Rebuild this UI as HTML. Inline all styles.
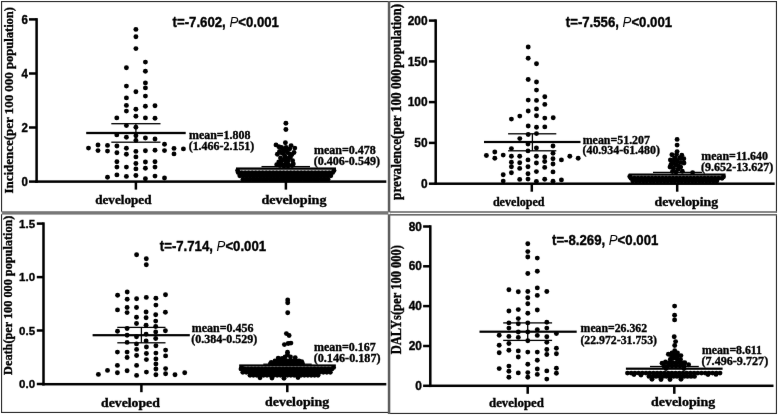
<!DOCTYPE html>
<html><head><meta charset="utf-8"><style>
html,body{margin:0;padding:0;background:#fff;}
svg{display:block;}
text{fill:#000;}
</style></head><body>
<svg width="778" height="415" viewBox="0 0 778 415">
<defs><filter id="sf" x="0" y="0" width="778" height="415" filterUnits="userSpaceOnUse" color-interpolation-filters="sRGB"><feConvolveMatrix order="3" kernelMatrix="0.00163 0.03713 0.00163 0.03713 0.84497 0.03713 0.00163 0.03713 0.00163" edgeMode="duplicate" preserveAlpha="true"/></filter></defs>
<g filter="url(#sf)">
<rect x="0" y="0" width="778" height="415" fill="#fff"/>
<rect x="1" y="1" width="387.5" height="1.1" fill="#262626"/><rect x="389.5" y="1" width="387.5" height="1.1" fill="#262626"/><rect x="1" y="1" width="1.1" height="211" fill="#262626"/><rect x="1" y="214" width="1.1" height="199" fill="#262626"/><rect x="775.9" y="1" width="1.1" height="211.5" fill="#262626"/><rect x="775.9" y="214" width="1.1" height="200" fill="#262626"/><rect x="1" y="411.9" width="388" height="1.1" fill="#262626"/><rect x="389" y="412.9" width="388" height="1.1" fill="#262626"/><rect x="387.8" y="1" width="2.5" height="413" fill="#5c5c5c"/><rect x="1" y="211.2" width="388.2" height="3.4" fill="#777"/><rect x="389.5" y="211.2" width="387.5" height="1.6" fill="#6a6a6a"/><rect x="389.5" y="214" width="387.5" height="1.6" fill="#666"/><rect x="388.3" y="212.4" width="1.8" height="1.8" fill="#fff"/><rect x="1" y="212.3" width="1.1" height="1.5" fill="#fff"/>
<g fill="#000">
<rect x="35.35" y="18.15" width="2.50" height="164.70"/>
<rect x="29.00" y="180.35" width="7.60" height="2.50"/>
<text transform="translate(28.00,185.70) scale(1,1.1)" style="font-family:'Liberation Sans',sans-serif;font-weight:bold;stroke:#000;stroke-width:0.35px;font-size:11.5px" text-anchor="end" >0</text>
<rect x="29.00" y="126.25" width="7.60" height="2.50"/>
<text transform="translate(28.00,131.60) scale(1,1.1)" style="font-family:'Liberation Sans',sans-serif;font-weight:bold;stroke:#000;stroke-width:0.35px;font-size:11.5px" text-anchor="end" >2</text>
<rect x="29.00" y="72.25" width="7.60" height="2.50"/>
<text transform="translate(28.00,77.60) scale(1,1.1)" style="font-family:'Liberation Sans',sans-serif;font-weight:bold;stroke:#000;stroke-width:0.35px;font-size:11.5px" text-anchor="end" >4</text>
<rect x="29.00" y="18.15" width="7.60" height="2.50"/>
<text transform="translate(28.00,23.50) scale(1,1.1)" style="font-family:'Liberation Sans',sans-serif;font-weight:bold;stroke:#000;stroke-width:0.35px;font-size:11.5px" text-anchor="end" >6</text>
<rect x="35.35" y="180.35" width="350.95" height="2.50"/>
<rect x="134.65" y="181.60" width="2.50" height="8.00"/>
<rect x="284.65" y="181.60" width="2.50" height="8.00"/>
<text x="95.20" y="204.40" textLength="56.30" lengthAdjust="spacingAndGlyphs" style="font-family:'Liberation Serif',serif;font-weight:bold;stroke:#000;stroke-width:0.35px;font-size:13.0px">developed</text>
<text x="261.40" y="204.40" textLength="65.10" lengthAdjust="spacingAndGlyphs" style="font-family:'Liberation Serif',serif;font-weight:bold;stroke:#000;stroke-width:0.35px;font-size:13.0px">developing</text>
<text transform="translate(13.30,193.60) rotate(-90) scale(1,1.03)" textLength="121.40" lengthAdjust="spacingAndGlyphs" style="font-family:'Liberation Serif',serif;font-weight:bold;stroke:#000;stroke-width:0.35px;font-size:12.8px">Incidence(per 100 000</text>
<text transform="translate(13.30,68.90) rotate(-90) scale(1,1.03)" textLength="61.90" lengthAdjust="spacingAndGlyphs" style="font-family:'Liberation Serif',serif;font-weight:bold;stroke:#000;stroke-width:0.35px;font-size:12.8px">population)</text>
<text transform="translate(172.60,26.60) scale(1,1.07)" style="font-family:'Liberation Sans',sans-serif;font-weight:bold;stroke:#000;stroke-width:0.35px;font-size:13.2px">t=-7.602, <tspan style="font-weight:normal;font-style:italic;stroke-width:0">P</tspan>&lt;0.001</text>
<g><circle cx="135.9" cy="29.4" r="2.45"/><circle cx="135.9" cy="36.8" r="2.45"/><circle cx="135.9" cy="48.6" r="2.45"/><circle cx="145.4" cy="62.1" r="2.45"/><circle cx="126.4" cy="67.7" r="2.45"/><circle cx="145.4" cy="71.3" r="2.45"/><circle cx="126.4" cy="86.1" r="2.45"/><circle cx="145.4" cy="82.9" r="2.45"/><circle cx="145.4" cy="87.9" r="2.45"/><circle cx="135.9" cy="91.8" r="2.45"/><circle cx="126.4" cy="97.9" r="2.45"/><circle cx="145.4" cy="96.1" r="2.45"/><circle cx="126.4" cy="105.4" r="2.45"/><circle cx="145.4" cy="106.3" r="2.45"/><circle cx="155.0" cy="105.7" r="2.45"/><circle cx="126.4" cy="111.1" r="2.45"/><circle cx="135.9" cy="109.2" r="2.45"/><circle cx="116.8" cy="117.9" r="2.45"/><circle cx="135.9" cy="116.2" r="2.45"/><circle cx="145.4" cy="117.9" r="2.45"/><circle cx="155.0" cy="118.2" r="2.45"/><circle cx="126.4" cy="125.6" r="2.45"/><circle cx="135.9" cy="127.2" r="2.45"/><circle cx="116.8" cy="134.9" r="2.45"/><circle cx="126.4" cy="137.2" r="2.45"/><circle cx="135.9" cy="135.7" r="2.45"/><circle cx="145.4" cy="138.0" r="2.45"/><circle cx="155.0" cy="139.0" r="2.45"/><circle cx="135.9" cy="140.4" r="2.45"/><circle cx="88.5" cy="148.1" r="2.45"/><circle cx="98.0" cy="145.0" r="2.45"/><circle cx="98.0" cy="150.6" r="2.45"/><circle cx="107.5" cy="145.4" r="2.45"/><circle cx="107.5" cy="151.1" r="2.45"/><circle cx="116.9" cy="146.0" r="2.45"/><circle cx="116.9" cy="152.7" r="2.45"/><circle cx="126.4" cy="148.2" r="2.45"/><circle cx="126.4" cy="154.2" r="2.45"/><circle cx="135.9" cy="151.4" r="2.45"/><circle cx="135.9" cy="156.9" r="2.45"/><circle cx="145.4" cy="150.8" r="2.45"/><circle cx="155.0" cy="150.2" r="2.45"/><circle cx="164.5" cy="144.2" r="2.45"/><circle cx="164.5" cy="150.6" r="2.45"/><circle cx="174.0" cy="148.4" r="2.45"/><circle cx="174.0" cy="153.9" r="2.45"/><circle cx="183.4" cy="148.9" r="2.45"/><circle cx="116.9" cy="161.7" r="2.45"/><circle cx="116.9" cy="167.1" r="2.45"/><circle cx="126.4" cy="167.1" r="2.45"/><circle cx="135.9" cy="163.5" r="2.45"/><circle cx="135.9" cy="168.9" r="2.45"/><circle cx="145.4" cy="162.0" r="2.45"/><circle cx="145.4" cy="168.3" r="2.45"/><circle cx="155.0" cy="161.7" r="2.45"/><circle cx="155.0" cy="167.1" r="2.45"/><circle cx="107.5" cy="177.3" r="2.45"/><circle cx="116.9" cy="174.9" r="2.45"/><circle cx="126.4" cy="176.4" r="2.45"/><circle cx="135.9" cy="175.5" r="2.45"/><circle cx="145.4" cy="178.8" r="2.45"/><circle cx="155.0" cy="176.1" r="2.45"/><circle cx="164.5" cy="178.0" r="2.45"/><circle cx="285.9" cy="123.3" r="2.45"/><circle cx="285.9" cy="129.5" r="2.45"/><circle cx="285.4" cy="142.7" r="2.45"/><circle cx="276.0" cy="144.9" r="2.45"/><circle cx="278.8" cy="146.7" r="2.45"/><circle cx="282.5" cy="148.8" r="2.45"/><circle cx="286.1" cy="147.4" r="2.45"/><circle cx="286.1" cy="150.3" r="2.45"/><circle cx="289.7" cy="148.8" r="2.45"/><circle cx="283.2" cy="152.5" r="2.45"/><circle cx="287.5" cy="152.5" r="2.45"/><circle cx="289.7" cy="153.9" r="2.45"/><circle cx="284.6" cy="155.4" r="2.45"/><circle cx="291.1" cy="145.6" r="2.45"/><circle cx="294.8" cy="148.1" r="2.45"/><circle cx="294.0" cy="152.5" r="2.45"/><circle cx="291.9" cy="154.6" r="2.45"/><circle cx="277.4" cy="154.3" r="2.45"/><circle cx="285.4" cy="157.5" r="2.45"/><circle cx="283.9" cy="159.7" r="2.45"/><circle cx="278.8" cy="161.9" r="2.45"/><circle cx="286.8" cy="161.1" r="2.45"/><circle cx="292.6" cy="160.8" r="2.45"/><circle cx="276.7" cy="164.8" r="2.45"/><circle cx="282.5" cy="164.8" r="2.45"/><circle cx="288.2" cy="164.8" r="2.45"/><circle cx="293.3" cy="164.0" r="2.45"/><circle cx="280.5" cy="158.0" r="2.45"/><circle cx="289.0" cy="158.0" r="2.45"/><circle cx="281.5" cy="147.5" r="2.45"/><circle cx="282.0" cy="153.0" r="2.45"/><circle cx="288.0" cy="161.0" r="2.45"/><circle cx="281.0" cy="162.0" r="2.45"/><circle cx="290.5" cy="157.0" r="2.45"/><circle cx="279.5" cy="151.5" r="2.45"/><circle cx="238.2" cy="172.6" r="2.45"/><circle cx="241.7" cy="172.6" r="2.45"/><circle cx="245.2" cy="172.6" r="2.45"/><circle cx="248.7" cy="172.6" r="2.45"/><circle cx="252.2" cy="172.6" r="2.45"/><circle cx="255.7" cy="172.6" r="2.45"/><circle cx="259.2" cy="172.6" r="2.45"/><circle cx="262.7" cy="172.6" r="2.45"/><circle cx="266.2" cy="172.6" r="2.45"/><circle cx="269.7" cy="172.6" r="2.45"/><circle cx="273.2" cy="172.6" r="2.45"/><circle cx="276.7" cy="172.6" r="2.45"/><circle cx="280.2" cy="172.6" r="2.45"/><circle cx="283.7" cy="172.6" r="2.45"/><circle cx="287.2" cy="172.6" r="2.45"/><circle cx="290.7" cy="172.6" r="2.45"/><circle cx="294.2" cy="172.6" r="2.45"/><circle cx="297.7" cy="172.6" r="2.45"/><circle cx="301.2" cy="172.6" r="2.45"/><circle cx="304.7" cy="172.6" r="2.45"/><circle cx="308.2" cy="172.6" r="2.45"/><circle cx="311.7" cy="172.6" r="2.45"/><circle cx="315.2" cy="172.6" r="2.45"/><circle cx="318.7" cy="172.6" r="2.45"/><circle cx="322.2" cy="172.6" r="2.45"/><circle cx="325.7" cy="172.6" r="2.45"/><circle cx="329.2" cy="172.6" r="2.45"/><circle cx="332.7" cy="172.6" r="2.45"/><circle cx="239.8" cy="175.8" r="2.45"/><circle cx="243.3" cy="175.8" r="2.45"/><circle cx="246.8" cy="175.8" r="2.45"/><circle cx="250.3" cy="175.8" r="2.45"/><circle cx="253.8" cy="175.8" r="2.45"/><circle cx="257.3" cy="175.8" r="2.45"/><circle cx="260.8" cy="175.8" r="2.45"/><circle cx="264.3" cy="175.8" r="2.45"/><circle cx="267.8" cy="175.8" r="2.45"/><circle cx="271.3" cy="175.8" r="2.45"/><circle cx="274.8" cy="175.8" r="2.45"/><circle cx="278.3" cy="175.8" r="2.45"/><circle cx="281.8" cy="175.8" r="2.45"/><circle cx="285.3" cy="175.8" r="2.45"/><circle cx="288.8" cy="175.8" r="2.45"/><circle cx="292.3" cy="175.8" r="2.45"/><circle cx="295.8" cy="175.8" r="2.45"/><circle cx="299.3" cy="175.8" r="2.45"/><circle cx="302.8" cy="175.8" r="2.45"/><circle cx="306.3" cy="175.8" r="2.45"/><circle cx="309.8" cy="175.8" r="2.45"/><circle cx="313.3" cy="175.8" r="2.45"/><circle cx="316.8" cy="175.8" r="2.45"/><circle cx="320.3" cy="175.8" r="2.45"/><circle cx="323.8" cy="175.8" r="2.45"/><circle cx="327.3" cy="175.8" r="2.45"/><circle cx="330.8" cy="175.8" r="2.45"/><circle cx="243.0" cy="179.3" r="2.45"/><circle cx="246.4" cy="179.3" r="2.45"/><circle cx="249.8" cy="179.3" r="2.45"/><circle cx="253.2" cy="179.3" r="2.45"/><circle cx="256.6" cy="179.3" r="2.45"/><circle cx="260.0" cy="179.3" r="2.45"/><circle cx="263.4" cy="179.3" r="2.45"/><circle cx="266.8" cy="179.3" r="2.45"/><circle cx="270.2" cy="179.3" r="2.45"/><circle cx="273.6" cy="179.3" r="2.45"/><circle cx="277.0" cy="179.3" r="2.45"/><circle cx="280.4" cy="179.3" r="2.45"/><circle cx="283.8" cy="179.3" r="2.45"/><circle cx="287.2" cy="179.3" r="2.45"/><circle cx="290.6" cy="179.3" r="2.45"/><circle cx="294.0" cy="179.3" r="2.45"/><circle cx="297.4" cy="179.3" r="2.45"/><circle cx="300.8" cy="179.3" r="2.45"/><circle cx="304.2" cy="179.3" r="2.45"/><circle cx="307.6" cy="179.3" r="2.45"/><circle cx="311.0" cy="179.3" r="2.45"/><circle cx="314.4" cy="179.3" r="2.45"/><circle cx="317.8" cy="179.3" r="2.45"/><circle cx="321.2" cy="179.3" r="2.45"/><circle cx="324.6" cy="179.3" r="2.45"/><circle cx="328.0" cy="179.3" r="2.45"/><circle cx="237.6" cy="170.6" r="2.45"/><circle cx="334.0" cy="170.6" r="2.45"/><circle cx="280.0" cy="165.5" r="2.45"/><circle cx="284.0" cy="166.0" r="2.45"/><circle cx="288.0" cy="166.0" r="2.45"/><circle cx="292.0" cy="165.5" r="2.45"/><circle cx="286.0" cy="163.5" r="2.45"/></g>
<rect x="86.20" y="131.85" width="99.50" height="2.30"/>
<rect x="111.30" y="123.05" width="49.20" height="1.30"/>
<rect x="111.30" y="141.55" width="49.20" height="1.30"/>
<rect x="236.00" y="167.45" width="100.00" height="2.30"/>
<rect x="261.50" y="165.95" width="48.50" height="1.30"/>
<rect x="135.25" y="123.70" width="1.30" height="18.50"/>
<text x="189.00" y="138.80" textLength="61.40" lengthAdjust="spacingAndGlyphs" style="font-family:'Liberation Serif',serif;font-weight:bold;stroke:#000;stroke-width:0.35px;font-size:12.0px">mean=1.808</text>
<text x="188.70" y="149.60" textLength="65.60" lengthAdjust="spacingAndGlyphs" style="font-family:'Liberation Serif',serif;font-weight:bold;stroke:#000;stroke-width:0.35px;font-size:12.0px">(1.466-2.151)</text>
<text x="313.90" y="154.20" textLength="61.90" lengthAdjust="spacingAndGlyphs" style="font-family:'Liberation Serif',serif;font-weight:bold;stroke:#000;stroke-width:0.35px;font-size:12.0px">mean=0.478</text>
<text x="313.70" y="165.20" textLength="66.30" lengthAdjust="spacingAndGlyphs" style="font-family:'Liberation Serif',serif;font-weight:bold;stroke:#000;stroke-width:0.35px;font-size:12.0px">(0.406-0.549)</text>
<rect x="434.45" y="19.35" width="2.50" height="165.60"/>
<rect x="428.90" y="182.45" width="6.80" height="2.50"/>
<text transform="translate(427.60,187.90) scale(1,1.05)" style="font-family:'Liberation Sans',sans-serif;font-weight:bold;stroke:#000;stroke-width:0.35px;font-size:11.9px" text-anchor="end" >0</text>
<rect x="428.90" y="141.65" width="6.80" height="2.50"/>
<text transform="translate(427.60,147.10) scale(1,1.05)" style="font-family:'Liberation Sans',sans-serif;font-weight:bold;stroke:#000;stroke-width:0.35px;font-size:11.9px" text-anchor="end" >50</text>
<rect x="428.90" y="100.85" width="6.80" height="2.50"/>
<text transform="translate(427.60,106.30) scale(1,1.05)" style="font-family:'Liberation Sans',sans-serif;font-weight:bold;stroke:#000;stroke-width:0.35px;font-size:11.9px" text-anchor="end" >100</text>
<rect x="428.90" y="60.15" width="6.80" height="2.50"/>
<text transform="translate(427.60,65.60) scale(1,1.05)" style="font-family:'Liberation Sans',sans-serif;font-weight:bold;stroke:#000;stroke-width:0.35px;font-size:11.9px" text-anchor="end" >150</text>
<rect x="428.90" y="19.35" width="6.80" height="2.50"/>
<text transform="translate(427.60,24.80) scale(1,1.05)" style="font-family:'Liberation Sans',sans-serif;font-weight:bold;stroke:#000;stroke-width:0.35px;font-size:11.9px" text-anchor="end" >200</text>
<rect x="434.45" y="182.45" width="340.25" height="2.50"/>
<rect x="530.55" y="183.70" width="2.50" height="8.00"/>
<rect x="675.95" y="183.70" width="2.50" height="8.00"/>
<text x="492.90" y="206.40" textLength="51.70" lengthAdjust="spacingAndGlyphs" style="font-family:'Liberation Serif',serif;font-weight:bold;stroke:#000;stroke-width:0.35px;font-size:13.0px">developed</text>
<text x="654.50" y="206.40" textLength="63.70" lengthAdjust="spacingAndGlyphs" style="font-family:'Liberation Serif',serif;font-weight:bold;stroke:#000;stroke-width:0.35px;font-size:13.0px">developing</text>
<text transform="translate(400.80,200.00) rotate(-90) scale(1,1.06)" textLength="131.00" lengthAdjust="spacingAndGlyphs" style="font-family:'Liberation Serif',serif;font-weight:bold;stroke:#000;stroke-width:0.35px;font-size:13.0px">prevalence(per 100 000</text>
<text transform="translate(400.80,67.90) rotate(-90) scale(1,1.06)" textLength="64.00" lengthAdjust="spacingAndGlyphs" style="font-family:'Liberation Serif',serif;font-weight:bold;stroke:#000;stroke-width:0.35px;font-size:13.0px">population)</text>
<text transform="translate(565.80,26.60) scale(1,1.07)" style="font-family:'Liberation Sans',sans-serif;font-weight:bold;stroke:#000;stroke-width:0.35px;font-size:13.2px">t=-7.556, <tspan style="font-weight:normal;font-style:italic;stroke-width:0">P</tspan>&lt;0.001</text>
<g><circle cx="528.2" cy="47.0" r="2.45"/><circle cx="528.2" cy="58.3" r="2.45"/><circle cx="536.5" cy="63.7" r="2.45"/><circle cx="528.2" cy="79.5" r="2.45"/><circle cx="536.5" cy="82.0" r="2.45"/><circle cx="536.5" cy="90.1" r="2.45"/><circle cx="544.8" cy="96.7" r="2.45"/><circle cx="528.2" cy="100.1" r="2.45"/><circle cx="536.5" cy="100.4" r="2.45"/><circle cx="544.8" cy="104.4" r="2.45"/><circle cx="536.5" cy="108.9" r="2.45"/><circle cx="528.2" cy="111.0" r="2.45"/><circle cx="519.8" cy="116.1" r="2.45"/><circle cx="536.5" cy="115.8" r="2.45"/><circle cx="511.4" cy="119.1" r="2.45"/><circle cx="544.8" cy="118.1" r="2.45"/><circle cx="553.2" cy="117.7" r="2.45"/><circle cx="528.2" cy="126.0" r="2.45"/><circle cx="536.5" cy="127.2" r="2.45"/><circle cx="544.8" cy="126.9" r="2.45"/><circle cx="528.2" cy="134.5" r="2.45"/><circle cx="536.5" cy="133.6" r="2.45"/><circle cx="519.8" cy="138.6" r="2.45"/><circle cx="528.0" cy="144.0" r="2.45"/><circle cx="511.4" cy="148.6" r="2.45"/><circle cx="528.0" cy="150.9" r="2.45"/><circle cx="536.4" cy="148.0" r="2.45"/><circle cx="553.0" cy="146.0" r="2.45"/><circle cx="486.4" cy="155.5" r="2.45"/><circle cx="494.8" cy="152.0" r="2.45"/><circle cx="494.8" cy="158.2" r="2.45"/><circle cx="503.2" cy="155.1" r="2.45"/><circle cx="511.4" cy="156.2" r="2.45"/><circle cx="511.4" cy="162.2" r="2.45"/><circle cx="511.4" cy="166.8" r="2.45"/><circle cx="511.4" cy="172.7" r="2.45"/><circle cx="519.7" cy="156.2" r="2.45"/><circle cx="519.7" cy="162.8" r="2.45"/><circle cx="519.7" cy="168.4" r="2.45"/><circle cx="528.0" cy="159.9" r="2.45"/><circle cx="528.0" cy="166.8" r="2.45"/><circle cx="528.0" cy="173.7" r="2.45"/><circle cx="536.4" cy="156.3" r="2.45"/><circle cx="536.4" cy="163.0" r="2.45"/><circle cx="536.4" cy="171.6" r="2.45"/><circle cx="544.7" cy="156.9" r="2.45"/><circle cx="544.7" cy="161.5" r="2.45"/><circle cx="544.7" cy="167.4" r="2.45"/><circle cx="553.0" cy="153.3" r="2.45"/><circle cx="553.0" cy="158.7" r="2.45"/><circle cx="553.0" cy="164.0" r="2.45"/><circle cx="553.0" cy="171.9" r="2.45"/><circle cx="561.4" cy="159.9" r="2.45"/><circle cx="569.8" cy="156.3" r="2.45"/><circle cx="578.2" cy="158.2" r="2.45"/><circle cx="503.2" cy="174.7" r="2.45"/><circle cx="503.2" cy="181.1" r="2.45"/><circle cx="519.7" cy="179.4" r="2.45"/><circle cx="528.0" cy="179.1" r="2.45"/><circle cx="536.4" cy="181.5" r="2.45"/><circle cx="544.7" cy="179.3" r="2.45"/><circle cx="553.0" cy="181.3" r="2.45"/><circle cx="561.4" cy="179.9" r="2.45"/><circle cx="677.1" cy="139.4" r="2.45"/><circle cx="677.1" cy="145.1" r="2.45"/><circle cx="677.1" cy="151.6" r="2.45"/><circle cx="671.9" cy="154.7" r="2.45"/><circle cx="676.5" cy="154.5" r="2.45"/><circle cx="681.8" cy="155.2" r="2.45"/><circle cx="670.4" cy="160.0" r="2.45"/><circle cx="675.0" cy="158.0" r="2.45"/><circle cx="679.5" cy="158.0" r="2.45"/><circle cx="683.8" cy="158.8" r="2.45"/><circle cx="673.5" cy="163.0" r="2.45"/><circle cx="677.5" cy="161.5" r="2.45"/><circle cx="681.0" cy="162.5" r="2.45"/><circle cx="671.0" cy="164.5" r="2.45"/><circle cx="684.0" cy="163.0" r="2.45"/><circle cx="673.5" cy="168.2" r="2.45"/><circle cx="678.1" cy="169.2" r="2.45"/><circle cx="680.7" cy="167.1" r="2.45"/><circle cx="682.3" cy="171.3" r="2.45"/><circle cx="676.0" cy="172.0" r="2.45"/><circle cx="672.5" cy="171.5" r="2.45"/><circle cx="692.6" cy="172.6" r="2.45"/><circle cx="674.5" cy="158.5" r="2.45"/><circle cx="675.5" cy="165.0" r="2.45"/><circle cx="680.5" cy="158.0" r="2.45"/><circle cx="678.0" cy="165.5" r="2.45"/><circle cx="670.0" cy="167.0" r="2.45"/><circle cx="676.5" cy="160.5" r="2.45"/><circle cx="672.0" cy="161.5" r="2.45"/><circle cx="631.0" cy="178.2" r="2.45"/><circle cx="634.5" cy="178.2" r="2.45"/><circle cx="638.0" cy="178.2" r="2.45"/><circle cx="641.5" cy="178.2" r="2.45"/><circle cx="645.0" cy="178.2" r="2.45"/><circle cx="648.5" cy="178.2" r="2.45"/><circle cx="652.0" cy="178.2" r="2.45"/><circle cx="655.5" cy="178.2" r="2.45"/><circle cx="659.0" cy="178.2" r="2.45"/><circle cx="662.5" cy="178.2" r="2.45"/><circle cx="666.0" cy="178.2" r="2.45"/><circle cx="669.5" cy="178.2" r="2.45"/><circle cx="673.0" cy="178.2" r="2.45"/><circle cx="676.5" cy="178.2" r="2.45"/><circle cx="680.0" cy="178.2" r="2.45"/><circle cx="683.5" cy="178.2" r="2.45"/><circle cx="687.0" cy="178.2" r="2.45"/><circle cx="690.5" cy="178.2" r="2.45"/><circle cx="694.0" cy="178.2" r="2.45"/><circle cx="697.5" cy="178.2" r="2.45"/><circle cx="701.0" cy="178.2" r="2.45"/><circle cx="704.5" cy="178.2" r="2.45"/><circle cx="708.0" cy="178.2" r="2.45"/><circle cx="711.5" cy="178.2" r="2.45"/><circle cx="715.0" cy="178.2" r="2.45"/><circle cx="718.5" cy="178.2" r="2.45"/><circle cx="722.0" cy="178.2" r="2.45"/><circle cx="632.8" cy="181.0" r="2.45"/><circle cx="636.3" cy="181.0" r="2.45"/><circle cx="639.8" cy="181.0" r="2.45"/><circle cx="643.3" cy="181.0" r="2.45"/><circle cx="646.8" cy="181.0" r="2.45"/><circle cx="650.3" cy="181.0" r="2.45"/><circle cx="653.8" cy="181.0" r="2.45"/><circle cx="657.3" cy="181.0" r="2.45"/><circle cx="660.8" cy="181.0" r="2.45"/><circle cx="664.3" cy="181.0" r="2.45"/><circle cx="667.8" cy="181.0" r="2.45"/><circle cx="671.3" cy="181.0" r="2.45"/><circle cx="674.8" cy="181.0" r="2.45"/><circle cx="678.3" cy="181.0" r="2.45"/><circle cx="681.8" cy="181.0" r="2.45"/><circle cx="685.3" cy="181.0" r="2.45"/><circle cx="688.8" cy="181.0" r="2.45"/><circle cx="692.3" cy="181.0" r="2.45"/><circle cx="695.8" cy="181.0" r="2.45"/><circle cx="699.3" cy="181.0" r="2.45"/><circle cx="702.8" cy="181.0" r="2.45"/><circle cx="706.3" cy="181.0" r="2.45"/><circle cx="709.8" cy="181.0" r="2.45"/><circle cx="713.3" cy="181.0" r="2.45"/><circle cx="716.8" cy="181.0" r="2.45"/><circle cx="629.8" cy="176.5" r="2.45"/><circle cx="723.5" cy="176.8" r="2.45"/></g>
<rect x="484.00" y="140.90" width="96.50" height="2.20"/>
<rect x="508.10" y="133.15" width="48.20" height="1.30"/>
<rect x="508.10" y="150.15" width="48.20" height="1.30"/>
<rect x="628.70" y="173.50" width="96.80" height="2.20"/>
<rect x="653.00" y="171.75" width="49.00" height="1.30"/>
<rect x="531.75" y="133.80" width="1.30" height="17.00"/>
<text x="582.70" y="143.90" textLength="67.30" lengthAdjust="spacingAndGlyphs" style="font-family:'Liberation Serif',serif;font-weight:bold;stroke:#000;stroke-width:0.35px;font-size:12.0px">mean=51.207</text>
<text x="582.50" y="154.40" textLength="77.40" lengthAdjust="spacingAndGlyphs" style="font-family:'Liberation Serif',serif;font-weight:bold;stroke:#000;stroke-width:0.35px;font-size:12.0px">(40.934-61.480)</text>
<text x="701.30" y="159.70" textLength="66.70" lengthAdjust="spacingAndGlyphs" style="font-family:'Liberation Serif',serif;font-weight:bold;stroke:#000;stroke-width:0.35px;font-size:12.0px">mean=11.640</text>
<text x="701.00" y="170.80" textLength="72.30" lengthAdjust="spacingAndGlyphs" style="font-family:'Liberation Serif',serif;font-weight:bold;stroke:#000;stroke-width:0.35px;font-size:12.0px">(9.652-13.627)</text>
<rect x="42.25" y="222.35" width="2.50" height="163.10"/>
<rect x="36.80" y="382.75" width="6.70" height="2.50"/>
<text x="35.10" y="388.10" style="font-family:'Liberation Sans',sans-serif;font-weight:bold;stroke:#000;stroke-width:0.35px;font-size:11.5px" text-anchor="end" >0.0</text>
<rect x="36.80" y="329.25" width="6.70" height="2.50"/>
<text x="35.10" y="334.60" style="font-family:'Liberation Sans',sans-serif;font-weight:bold;stroke:#000;stroke-width:0.35px;font-size:11.5px" text-anchor="end" >0.5</text>
<rect x="36.80" y="275.85" width="6.70" height="2.50"/>
<text x="35.10" y="281.20" style="font-family:'Liberation Sans',sans-serif;font-weight:bold;stroke:#000;stroke-width:0.35px;font-size:11.5px" text-anchor="end" >1.0</text>
<rect x="36.80" y="222.35" width="6.70" height="2.50"/>
<text x="35.10" y="227.70" style="font-family:'Liberation Sans',sans-serif;font-weight:bold;stroke:#000;stroke-width:0.35px;font-size:11.5px" text-anchor="end" >1.5</text>
<rect x="42.25" y="382.95" width="344.05" height="2.50"/>
<rect x="140.15" y="384.20" width="2.50" height="8.00"/>
<rect x="286.05" y="384.20" width="2.50" height="8.00"/>
<text x="101.10" y="406.90" textLength="58.70" lengthAdjust="spacingAndGlyphs" style="font-family:'Liberation Serif',serif;font-weight:bold;stroke:#000;stroke-width:0.35px;font-size:13.0px">developed</text>
<text x="265.00" y="406.40" textLength="64.20" lengthAdjust="spacingAndGlyphs" style="font-family:'Liberation Serif',serif;font-weight:bold;stroke:#000;stroke-width:0.35px;font-size:13.0px">developing</text>
<text transform="translate(11.50,374.90) rotate(-90) scale(1.013,1.08)" style="font-family:'Liberation Serif',serif;font-weight:bold;stroke:#000;stroke-width:0.35px;font-size:12.1px">Death(per 100 000 population)</text>
<text transform="translate(159.80,250.80) scale(1,1.07)" style="font-family:'Liberation Sans',sans-serif;font-weight:bold;stroke:#000;stroke-width:0.35px;font-size:13.2px">t=-7.714, <tspan style="font-weight:normal;font-style:italic;stroke-width:0">P</tspan>&lt;0.001</text>
<g><circle cx="136.6" cy="254.8" r="2.45"/><circle cx="146.3" cy="258.7" r="2.45"/><circle cx="146.3" cy="264.7" r="2.45"/><circle cx="127.2" cy="292.0" r="2.45"/><circle cx="165.5" cy="294.7" r="2.45"/><circle cx="117.6" cy="295.3" r="2.45"/><circle cx="146.3" cy="297.4" r="2.45"/><circle cx="155.9" cy="298.2" r="2.45"/><circle cx="136.6" cy="298.8" r="2.45"/><circle cx="127.2" cy="299.2" r="2.45"/><circle cx="155.9" cy="305.1" r="2.45"/><circle cx="127.1" cy="307.5" r="2.45"/><circle cx="136.5" cy="307.5" r="2.45"/><circle cx="117.5" cy="309.9" r="2.45"/><circle cx="146.1" cy="312.0" r="2.45"/><circle cx="165.4" cy="312.3" r="2.45"/><circle cx="127.1" cy="312.6" r="2.45"/><circle cx="155.7" cy="314.7" r="2.45"/><circle cx="136.5" cy="317.2" r="2.45"/><circle cx="146.1" cy="317.8" r="2.45"/><circle cx="155.7" cy="321.1" r="2.45"/><circle cx="136.5" cy="323.5" r="2.45"/><circle cx="146.1" cy="325.3" r="2.45"/><circle cx="155.7" cy="326.5" r="2.45"/><circle cx="127.1" cy="328.5" r="2.45"/><circle cx="165.4" cy="330.7" r="2.45"/><circle cx="117.5" cy="331.3" r="2.45"/><circle cx="155.7" cy="331.9" r="2.45"/><circle cx="146.1" cy="334.3" r="2.45"/><circle cx="127.1" cy="335.3" r="2.45"/><circle cx="136.5" cy="336.7" r="2.45"/><circle cx="155.7" cy="338.5" r="2.45"/><circle cx="146.1" cy="340.9" r="2.45"/><circle cx="127.1" cy="342.4" r="2.45"/><circle cx="136.5" cy="343.9" r="2.45"/><circle cx="155.9" cy="345.7" r="2.45"/><circle cx="146.4" cy="347.0" r="2.45"/><circle cx="136.6" cy="349.4" r="2.45"/><circle cx="165.6" cy="350.1" r="2.45"/><circle cx="117.4" cy="352.1" r="2.45"/><circle cx="127.1" cy="352.1" r="2.45"/><circle cx="146.4" cy="353.5" r="2.45"/><circle cx="155.9" cy="353.1" r="2.45"/><circle cx="136.6" cy="355.5" r="2.45"/><circle cx="165.6" cy="355.9" r="2.45"/><circle cx="127.1" cy="357.5" r="2.45"/><circle cx="155.9" cy="358.9" r="2.45"/><circle cx="146.4" cy="359.6" r="2.45"/><circle cx="155.9" cy="364.0" r="2.45"/><circle cx="117.4" cy="365.4" r="2.45"/><circle cx="136.6" cy="365.4" r="2.45"/><circle cx="165.6" cy="368.6" r="2.45"/><circle cx="155.9" cy="369.0" r="2.45"/><circle cx="107.5" cy="370.4" r="2.45"/><circle cx="127.1" cy="370.8" r="2.45"/><circle cx="146.4" cy="372.1" r="2.45"/><circle cx="117.4" cy="372.7" r="2.45"/><circle cx="184.7" cy="372.8" r="2.45"/><circle cx="165.6" cy="373.7" r="2.45"/><circle cx="98.4" cy="374.4" r="2.45"/><circle cx="155.9" cy="374.8" r="2.45"/><circle cx="175.0" cy="374.8" r="2.45"/><circle cx="136.6" cy="375.4" r="2.45"/><circle cx="287.7" cy="300.0" r="2.45"/><circle cx="287.7" cy="302.7" r="2.45"/><circle cx="287.7" cy="312.7" r="2.45"/><circle cx="286.4" cy="333.6" r="2.45"/><circle cx="289.1" cy="335.5" r="2.45"/><circle cx="284.4" cy="344.6" r="2.45"/><circle cx="288.2" cy="343.5" r="2.45"/><circle cx="290.9" cy="343.1" r="2.45"/><circle cx="287.5" cy="352.3" r="2.45"/><circle cx="287.5" cy="354.7" r="2.45"/><circle cx="278.2" cy="358.1" r="2.45"/><circle cx="282.1" cy="358.5" r="2.45"/><circle cx="285.1" cy="357.0" r="2.45"/><circle cx="290.5" cy="357.0" r="2.45"/><circle cx="295.2" cy="357.7" r="2.45"/><circle cx="271.3" cy="362.4" r="2.45"/><circle cx="301.7" cy="361.6" r="2.45"/><circle cx="275.0" cy="361.0" r="2.45"/><circle cx="278.0" cy="361.0" r="2.45"/><circle cx="281.0" cy="361.0" r="2.45"/><circle cx="284.0" cy="361.0" r="2.45"/><circle cx="287.0" cy="361.0" r="2.45"/><circle cx="290.0" cy="361.0" r="2.45"/><circle cx="293.0" cy="361.0" r="2.45"/><circle cx="296.0" cy="361.0" r="2.45"/><circle cx="299.0" cy="361.0" r="2.45"/><circle cx="270.5" cy="363.6" r="2.45"/><circle cx="273.7" cy="363.6" r="2.45"/><circle cx="276.9" cy="363.6" r="2.45"/><circle cx="280.1" cy="363.6" r="2.45"/><circle cx="283.3" cy="363.6" r="2.45"/><circle cx="286.5" cy="363.6" r="2.45"/><circle cx="289.7" cy="363.6" r="2.45"/><circle cx="292.9" cy="363.6" r="2.45"/><circle cx="296.1" cy="363.6" r="2.45"/><circle cx="299.3" cy="363.6" r="2.45"/><circle cx="302.5" cy="363.6" r="2.45"/><circle cx="241.0" cy="368.9" r="2.45"/><circle cx="244.5" cy="368.9" r="2.45"/><circle cx="248.0" cy="368.9" r="2.45"/><circle cx="251.5" cy="368.9" r="2.45"/><circle cx="255.0" cy="368.9" r="2.45"/><circle cx="258.5" cy="368.9" r="2.45"/><circle cx="262.0" cy="368.9" r="2.45"/><circle cx="265.5" cy="368.9" r="2.45"/><circle cx="269.0" cy="368.9" r="2.45"/><circle cx="272.5" cy="368.9" r="2.45"/><circle cx="276.0" cy="368.9" r="2.45"/><circle cx="279.5" cy="368.9" r="2.45"/><circle cx="283.0" cy="368.9" r="2.45"/><circle cx="286.5" cy="368.9" r="2.45"/><circle cx="290.0" cy="368.9" r="2.45"/><circle cx="293.5" cy="368.9" r="2.45"/><circle cx="297.0" cy="368.9" r="2.45"/><circle cx="300.5" cy="368.9" r="2.45"/><circle cx="304.0" cy="368.9" r="2.45"/><circle cx="307.5" cy="368.9" r="2.45"/><circle cx="311.0" cy="368.9" r="2.45"/><circle cx="314.5" cy="368.9" r="2.45"/><circle cx="318.0" cy="368.9" r="2.45"/><circle cx="321.5" cy="368.9" r="2.45"/><circle cx="325.0" cy="368.9" r="2.45"/><circle cx="328.5" cy="368.9" r="2.45"/><circle cx="332.0" cy="368.9" r="2.45"/><circle cx="242.8" cy="372.2" r="2.45"/><circle cx="246.3" cy="372.2" r="2.45"/><circle cx="249.8" cy="372.2" r="2.45"/><circle cx="253.3" cy="372.2" r="2.45"/><circle cx="256.8" cy="372.2" r="2.45"/><circle cx="260.3" cy="372.2" r="2.45"/><circle cx="263.8" cy="372.2" r="2.45"/><circle cx="267.3" cy="372.2" r="2.45"/><circle cx="270.8" cy="372.2" r="2.45"/><circle cx="274.3" cy="372.2" r="2.45"/><circle cx="277.8" cy="372.2" r="2.45"/><circle cx="281.3" cy="372.2" r="2.45"/><circle cx="284.8" cy="372.2" r="2.45"/><circle cx="288.3" cy="372.2" r="2.45"/><circle cx="291.8" cy="372.2" r="2.45"/><circle cx="295.3" cy="372.2" r="2.45"/><circle cx="298.8" cy="372.2" r="2.45"/><circle cx="302.3" cy="372.2" r="2.45"/><circle cx="305.8" cy="372.2" r="2.45"/><circle cx="309.3" cy="372.2" r="2.45"/><circle cx="312.8" cy="372.2" r="2.45"/><circle cx="316.3" cy="372.2" r="2.45"/><circle cx="319.8" cy="372.2" r="2.45"/><circle cx="323.3" cy="372.2" r="2.45"/><circle cx="326.8" cy="372.2" r="2.45"/><circle cx="330.3" cy="372.2" r="2.45"/><circle cx="250.0" cy="375.2" r="2.45"/><circle cx="253.4" cy="375.2" r="2.45"/><circle cx="256.8" cy="375.2" r="2.45"/><circle cx="260.2" cy="375.2" r="2.45"/><circle cx="263.6" cy="375.2" r="2.45"/><circle cx="267.0" cy="375.2" r="2.45"/><circle cx="270.4" cy="375.2" r="2.45"/><circle cx="273.8" cy="375.2" r="2.45"/><circle cx="277.2" cy="375.2" r="2.45"/><circle cx="280.6" cy="375.2" r="2.45"/><circle cx="284.0" cy="375.2" r="2.45"/><circle cx="287.4" cy="375.2" r="2.45"/><circle cx="290.8" cy="375.2" r="2.45"/><circle cx="294.2" cy="375.2" r="2.45"/><circle cx="297.6" cy="375.2" r="2.45"/><circle cx="301.0" cy="375.2" r="2.45"/><circle cx="304.4" cy="375.2" r="2.45"/><circle cx="307.8" cy="375.2" r="2.45"/><circle cx="311.2" cy="375.2" r="2.45"/><circle cx="314.6" cy="375.2" r="2.45"/><circle cx="318.0" cy="375.2" r="2.45"/><circle cx="260.0" cy="377.8" r="2.45"/><circle cx="272.0" cy="378.0" r="2.45"/><circle cx="284.0" cy="378.2" r="2.45"/><circle cx="298.0" cy="377.6" r="2.45"/><circle cx="241.6" cy="367.4" r="2.45"/><circle cx="333.6" cy="367.4" r="2.45"/></g>
<rect x="92.60" y="334.10" width="97.20" height="2.20"/>
<rect x="117.30" y="326.75" width="48.20" height="1.30"/>
<rect x="117.30" y="342.15" width="48.20" height="1.30"/>
<rect x="239.20" y="364.40" width="96.60" height="2.20"/>
<rect x="263.30" y="363.55" width="48.40" height="1.30"/>
<rect x="140.75" y="327.40" width="1.30" height="15.40"/>
<text x="191.80" y="331.80" textLength="61.60" lengthAdjust="spacingAndGlyphs" style="font-family:'Liberation Serif',serif;font-weight:bold;stroke:#000;stroke-width:0.35px;font-size:12.0px">mean=0.456</text>
<text x="191.30" y="342.60" textLength="66.00" lengthAdjust="spacingAndGlyphs" style="font-family:'Liberation Serif',serif;font-weight:bold;stroke:#000;stroke-width:0.35px;font-size:12.0px">(0.384-0.529)</text>
<text x="314.00" y="350.90" textLength="61.70" lengthAdjust="spacingAndGlyphs" style="font-family:'Liberation Serif',serif;font-weight:bold;stroke:#000;stroke-width:0.35px;font-size:12.0px">mean=0.167</text>
<text x="313.70" y="362.40" textLength="66.90" lengthAdjust="spacingAndGlyphs" style="font-family:'Liberation Serif',serif;font-weight:bold;stroke:#000;stroke-width:0.35px;font-size:12.0px">(0.146-0.187)</text>
<rect x="429.05" y="225.25" width="2.50" height="161.80"/>
<rect x="423.10" y="384.55" width="7.20" height="2.50"/>
<text x="421.90" y="389.90" style="font-family:'Liberation Sans',sans-serif;font-weight:bold;stroke:#000;stroke-width:0.35px;font-size:11.9px" text-anchor="end" >0</text>
<rect x="423.10" y="344.75" width="7.20" height="2.50"/>
<text x="421.90" y="350.10" style="font-family:'Liberation Sans',sans-serif;font-weight:bold;stroke:#000;stroke-width:0.35px;font-size:11.9px" text-anchor="end" >20</text>
<rect x="423.10" y="304.85" width="7.20" height="2.50"/>
<text x="421.90" y="310.20" style="font-family:'Liberation Sans',sans-serif;font-weight:bold;stroke:#000;stroke-width:0.35px;font-size:11.9px" text-anchor="end" >40</text>
<rect x="423.10" y="265.05" width="7.20" height="2.50"/>
<text x="421.90" y="270.40" style="font-family:'Liberation Sans',sans-serif;font-weight:bold;stroke:#000;stroke-width:0.35px;font-size:11.9px" text-anchor="end" >60</text>
<rect x="423.10" y="225.25" width="7.20" height="2.50"/>
<text x="421.90" y="230.60" style="font-family:'Liberation Sans',sans-serif;font-weight:bold;stroke:#000;stroke-width:0.35px;font-size:11.9px" text-anchor="end" >80</text>
<rect x="429.05" y="384.55" width="344.45" height="2.50"/>
<rect x="526.45" y="385.80" width="2.50" height="8.00"/>
<rect x="673.05" y="385.80" width="2.50" height="8.00"/>
<text x="489.00" y="406.90" textLength="54.90" lengthAdjust="spacingAndGlyphs" style="font-family:'Liberation Serif',serif;font-weight:bold;stroke:#000;stroke-width:0.35px;font-size:13.0px">developed</text>
<text x="651.00" y="406.40" textLength="64.20" lengthAdjust="spacingAndGlyphs" style="font-family:'Liberation Serif',serif;font-weight:bold;stroke:#000;stroke-width:0.35px;font-size:13.0px">developing</text>
<text transform="translate(400.80,354.30) rotate(-90) scale(0.943,1.07)" style="font-family:'Liberation Serif',serif;font-weight:bold;stroke:#000;stroke-width:0.35px;font-size:13.3px">DALYs(per 100 000)</text>
<text transform="translate(552.00,245.20) scale(1,1.07)" style="font-family:'Liberation Sans',sans-serif;font-weight:bold;stroke:#000;stroke-width:0.35px;font-size:13.2px">t=-8.269, <tspan style="font-weight:normal;font-style:italic;stroke-width:0">P</tspan>&lt;0.001</text>
<g><circle cx="527.8" cy="243.8" r="2.45"/><circle cx="527.8" cy="251.6" r="2.45"/><circle cx="527.8" cy="257.0" r="2.45"/><circle cx="537.3" cy="258.1" r="2.45"/><circle cx="537.3" cy="271.3" r="2.45"/><circle cx="527.8" cy="273.5" r="2.45"/><circle cx="537.3" cy="287.9" r="2.45"/><circle cx="508.9" cy="289.8" r="2.45"/><circle cx="518.3" cy="291.8" r="2.45"/><circle cx="527.8" cy="291.5" r="2.45"/><circle cx="546.8" cy="291.5" r="2.45"/><circle cx="537.3" cy="295.4" r="2.45"/><circle cx="527.8" cy="297.7" r="2.45"/><circle cx="527.8" cy="303.8" r="2.45"/><circle cx="518.3" cy="309.6" r="2.45"/><circle cx="537.3" cy="310.0" r="2.45"/><circle cx="508.9" cy="311.0" r="2.45"/><circle cx="527.8" cy="313.2" r="2.45"/><circle cx="518.3" cy="318.6" r="2.45"/><circle cx="546.8" cy="322.3" r="2.45"/><circle cx="508.9" cy="322.9" r="2.45"/><circle cx="527.8" cy="322.9" r="2.45"/><circle cx="518.3" cy="323.8" r="2.45"/><circle cx="508.9" cy="328.1" r="2.45"/><circle cx="546.8" cy="328.1" r="2.45"/><circle cx="537.3" cy="329.6" r="2.45"/><circle cx="518.3" cy="332.0" r="2.45"/><circle cx="527.8" cy="332.0" r="2.45"/><circle cx="556.4" cy="333.5" r="2.45"/><circle cx="499.2" cy="335.2" r="2.45"/><circle cx="537.3" cy="335.4" r="2.45"/><circle cx="508.9" cy="336.4" r="2.45"/><circle cx="546.8" cy="336.7" r="2.45"/><circle cx="518.3" cy="337.4" r="2.45"/><circle cx="527.8" cy="340.7" r="2.45"/><circle cx="546.8" cy="342.2" r="2.45"/><circle cx="508.9" cy="343.5" r="2.45"/><circle cx="499.2" cy="345.3" r="2.45"/><circle cx="499.2" cy="352.7" r="2.45"/><circle cx="508.9" cy="350.2" r="2.45"/><circle cx="518.3" cy="350.9" r="2.45"/><circle cx="518.3" cy="357.0" r="2.45"/><circle cx="527.8" cy="352.1" r="2.45"/><circle cx="537.3" cy="352.1" r="2.45"/><circle cx="537.3" cy="360.3" r="2.45"/><circle cx="546.8" cy="349.5" r="2.45"/><circle cx="546.8" cy="354.5" r="2.45"/><circle cx="556.4" cy="348.3" r="2.45"/><circle cx="556.4" cy="353.8" r="2.45"/><circle cx="499.2" cy="368.6" r="2.45"/><circle cx="508.9" cy="366.1" r="2.45"/><circle cx="508.9" cy="371.2" r="2.45"/><circle cx="508.9" cy="377.3" r="2.45"/><circle cx="518.3" cy="372.9" r="2.45"/><circle cx="527.8" cy="364.2" r="2.45"/><circle cx="527.8" cy="372.6" r="2.45"/><circle cx="527.8" cy="377.3" r="2.45"/><circle cx="537.3" cy="369.0" r="2.45"/><circle cx="537.3" cy="374.4" r="2.45"/><circle cx="546.8" cy="370.9" r="2.45"/><circle cx="546.8" cy="379.1" r="2.45"/><circle cx="556.4" cy="368.3" r="2.45"/><circle cx="556.4" cy="373.3" r="2.45"/><circle cx="674.6" cy="306.1" r="2.45"/><circle cx="674.6" cy="315.2" r="2.45"/><circle cx="674.6" cy="319.9" r="2.45"/><circle cx="674.2" cy="336.8" r="2.45"/><circle cx="675.6" cy="341.6" r="2.45"/><circle cx="674.7" cy="345.5" r="2.45"/><circle cx="674.7" cy="350.8" r="2.45"/><circle cx="668.4" cy="354.2" r="2.45"/><circle cx="672.0" cy="353.0" r="2.45"/><circle cx="677.5" cy="353.0" r="2.45"/><circle cx="680.9" cy="355.6" r="2.45"/><circle cx="675.1" cy="355.1" r="2.45"/><circle cx="670.3" cy="359.5" r="2.45"/><circle cx="673.7" cy="358.0" r="2.45"/><circle cx="677.1" cy="359.0" r="2.45"/><circle cx="680.5" cy="359.5" r="2.45"/><circle cx="662.1" cy="363.3" r="2.45"/><circle cx="665.5" cy="362.0" r="2.45"/><circle cx="669.0" cy="363.0" r="2.45"/><circle cx="672.5" cy="362.5" r="2.45"/><circle cx="676.0" cy="363.0" r="2.45"/><circle cx="679.5" cy="362.5" r="2.45"/><circle cx="683.0" cy="363.0" r="2.45"/><circle cx="684.8" cy="362.8" r="2.45"/><circle cx="688.6" cy="364.8" r="2.45"/><circle cx="664.0" cy="366.0" r="2.45"/><circle cx="668.0" cy="366.0" r="2.45"/><circle cx="672.0" cy="366.0" r="2.45"/><circle cx="676.0" cy="366.0" r="2.45"/><circle cx="680.0" cy="366.0" r="2.45"/><circle cx="684.0" cy="366.0" r="2.45"/><circle cx="627.5" cy="373.1" r="2.45"/><circle cx="631.2" cy="373.1" r="2.45"/><circle cx="634.9" cy="373.1" r="2.45"/><circle cx="638.6" cy="373.1" r="2.45"/><circle cx="642.3" cy="373.1" r="2.45"/><circle cx="646.0" cy="373.1" r="2.45"/><circle cx="649.7" cy="373.1" r="2.45"/><circle cx="653.4" cy="373.1" r="2.45"/><circle cx="657.1" cy="373.1" r="2.45"/><circle cx="660.8" cy="373.1" r="2.45"/><circle cx="664.5" cy="373.1" r="2.45"/><circle cx="668.2" cy="373.1" r="2.45"/><circle cx="671.9" cy="373.1" r="2.45"/><circle cx="675.6" cy="373.1" r="2.45"/><circle cx="679.3" cy="373.1" r="2.45"/><circle cx="683.0" cy="373.1" r="2.45"/><circle cx="686.7" cy="373.1" r="2.45"/><circle cx="690.4" cy="373.1" r="2.45"/><circle cx="694.1" cy="373.1" r="2.45"/><circle cx="697.8" cy="373.1" r="2.45"/><circle cx="701.5" cy="373.1" r="2.45"/><circle cx="705.2" cy="373.1" r="2.45"/><circle cx="708.9" cy="373.1" r="2.45"/><circle cx="712.6" cy="373.1" r="2.45"/><circle cx="716.3" cy="373.1" r="2.45"/><circle cx="720.0" cy="373.1" r="2.45"/><circle cx="649.0" cy="376.4" r="2.45"/><circle cx="652.5" cy="376.4" r="2.45"/><circle cx="656.0" cy="376.4" r="2.45"/><circle cx="659.5" cy="376.4" r="2.45"/><circle cx="663.0" cy="376.4" r="2.45"/><circle cx="666.5" cy="376.4" r="2.45"/><circle cx="670.0" cy="376.4" r="2.45"/><circle cx="673.5" cy="376.4" r="2.45"/><circle cx="677.0" cy="376.4" r="2.45"/><circle cx="680.5" cy="376.4" r="2.45"/><circle cx="684.0" cy="376.4" r="2.45"/><circle cx="687.5" cy="376.4" r="2.45"/><circle cx="691.0" cy="376.4" r="2.45"/><circle cx="694.5" cy="376.4" r="2.45"/><circle cx="652.0" cy="379.2" r="2.45"/><circle cx="661.0" cy="379.6" r="2.45"/><circle cx="670.0" cy="379.6" r="2.45"/><circle cx="681.0" cy="379.3" r="2.45"/><circle cx="634.0" cy="374.6" r="2.45"/><circle cx="641.0" cy="375.0" r="2.45"/><circle cx="708.0" cy="374.6" r="2.45"/><circle cx="716.0" cy="374.4" r="2.45"/><circle cx="671.5" cy="356.0" r="2.45"/><circle cx="677.5" cy="356.5" r="2.45"/><circle cx="674.0" cy="357.5" r="2.45"/><circle cx="666.0" cy="368.5" r="2.45"/><circle cx="684.0" cy="368.5" r="2.45"/></g>
<rect x="479.50" y="330.60" width="97.20" height="2.20"/>
<rect x="503.20" y="322.25" width="48.90" height="1.30"/>
<rect x="503.20" y="339.75" width="48.90" height="1.30"/>
<rect x="625.90" y="367.60" width="96.70" height="2.20"/>
<rect x="650.00" y="365.85" width="48.80" height="1.30"/>
<rect x="527.05" y="322.90" width="1.30" height="17.50"/>
<text x="580.60" y="332.30" textLength="66.50" lengthAdjust="spacingAndGlyphs" style="font-family:'Liberation Serif',serif;font-weight:bold;stroke:#000;stroke-width:0.35px;font-size:12.0px">mean=26.362</text>
<text x="580.40" y="343.80" textLength="76.60" lengthAdjust="spacingAndGlyphs" style="font-family:'Liberation Serif',serif;font-weight:bold;stroke:#000;stroke-width:0.35px;font-size:12.0px">(22.972-31.753)</text>
<text x="701.90" y="353.60" textLength="60.10" lengthAdjust="spacingAndGlyphs" style="font-family:'Liberation Serif',serif;font-weight:bold;stroke:#000;stroke-width:0.35px;font-size:12.0px">mean=8.611</text>
<text x="701.50" y="365.10" textLength="66.70" lengthAdjust="spacingAndGlyphs" style="font-family:'Liberation Serif',serif;font-weight:bold;stroke:#000;stroke-width:0.35px;font-size:12.0px">(7.496-9.727)</text>
</g>
</g>
</svg>
</body></html>
